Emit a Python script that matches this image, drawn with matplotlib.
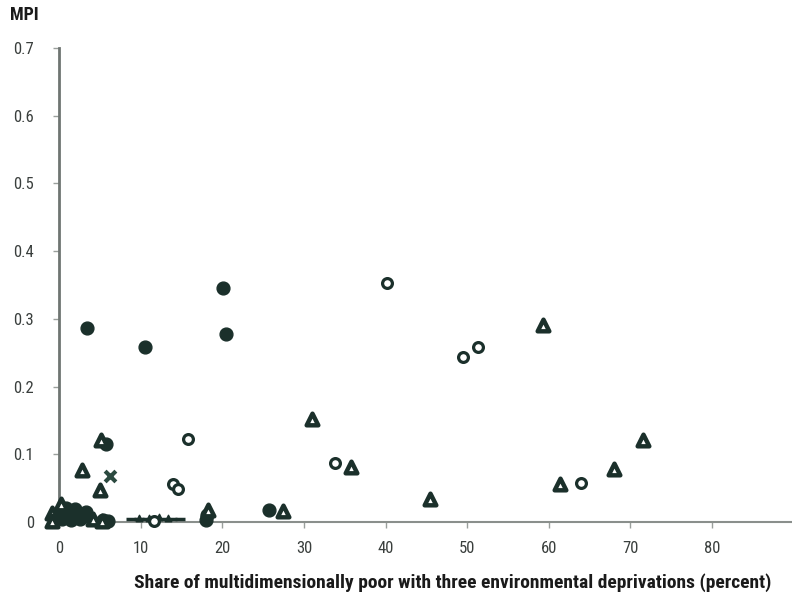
import matplotlib
matplotlib.use("Agg")
import matplotlib.pyplot as plt
from matplotlib import font_manager

names = {f.name for f in font_manager.fontManager.ttflist}
fam = [n for n in ["Liberation Sans Narrow", "DejaVu Sans Condensed", "Roboto Condensed", "DejaVu Sans"] if n in names]
plt.rcParams['font.family'] = fam

# Filled circles
fc_x = [3.4, 10.5, 20.1, 20.5, 5.7, 25.7, 18.0, 18.1,
        0.0, 0.6, 1.2, 1.8, 2.4, 3.0, 0.4, 1.5, 2.6, 0.9, 2.0, 3.3, 5.4, 6.0]
fc_y = [0.287, 0.258, 0.346, 0.278, 0.115, 0.018, 0.003, 0.010,
        0.010, 0.014, 0.008, 0.016, 0.012, 0.009, 0.004, 0.003, 0.004, 0.020, 0.019, 0.015, 0.003, 0.002]

# Open circles
oc_x = [40.2, 49.5, 51.3, 15.8, 14.0, 14.6, 33.8, 64.0, 11.6]
oc_y = [0.353, 0.244, 0.259, 0.123, 0.056, 0.049, 0.087, 0.058, 0.002]

# Triangles
tr_x = [59.3, 31.0, 35.8, 45.5, 61.4, 68.0, 71.6, 2.8, 5.0, 5.1, 27.5, 18.3,
        4.2, 5.3, -0.8, -0.8, 0.2]
tr_y = [0.291, 0.152, 0.081, 0.034, 0.056, 0.078, 0.121, 0.077, 0.047, 0.121, 0.016, 0.018,
        0.004, 0.002, 0.014, 0.002, 0.026]

# Small triangles
st_x = [9.8, 11.0, 12.2, 13.4]
st_y = [0.006, 0.006, 0.007, 0.006]

# Crosses
cr_x = [6.2]
cr_y = [0.068]

# Dashes
da_x = [8.8, 9.8, 10.8, 11.8, 12.8, 13.8, 14.8]
da_y = [0.004, 0.004, 0.004, 0.004, 0.004, 0.004, 0.004]

xticks = [0, 10, 20, 30, 40, 50, 60, 70, 80]
xtick_labels = ["0", "10", "20", "30", "40", "50", "60", "70", "80"]
yticks = [0, 0.1, 0.2, 0.3, 0.4, 0.5, 0.6, 0.7]
ytick_labels = ["0", "0.1", "0.2", "0.3", "0.4", "0.5", "0.6", "0.7"]

dark = "#1b302b"
grey = "#6f7572"

fig = plt.figure(figsize=(7.92, 5.96), dpi=100)
ax = fig.add_axes([59 / 792, 74 / 596, 733 / 792, 474 / 596])
ax.set_xlim(0, 89.8)
ax.set_ylim(0, 0.7)

ax.scatter(da_x, da_y, marker="_", s=50, color=dark, linewidths=2.5, clip_on=False, zorder=3)
ax.scatter(st_x, st_y, marker="^", s=22, color=dark, clip_on=False, zorder=3)
ax.scatter(fc_x, fc_y, marker="o", s=85, color=dark, edgecolors=dark, clip_on=False, zorder=4)
ax.scatter(oc_x, oc_y, marker="o", s=50, facecolors="white", edgecolors=dark, linewidths=2.3, clip_on=False, zorder=4)
ax.scatter(tr_x, tr_y, marker="^", s=70, facecolors="white", edgecolors=dark, linewidths=3.2, clip_on=False, zorder=5)
ax.scatter(cr_x, cr_y, marker="x", s=60, color="#2c4a40", linewidths=3, clip_on=False, zorder=5)

for s in ["top", "right"]:
    ax.spines[s].set_visible(False)
ax.spines["left"].set_color(grey)
ax.spines["left"].set_linewidth(2)
ax.spines["bottom"].set_color("#8a8f8c")
ax.spines["bottom"].set_linewidth(1.5)

ax.set_xticks(xticks)
ax.set_xticklabels(xtick_labels)
ax.set_yticks(yticks)
ax.set_yticklabels(ytick_labels)
ax.tick_params(axis="both", colors="#9a9f9c", labelcolor="#3a3f3d", labelsize=12, width=1, length=4)
ax.tick_params(axis="y", pad=14)
ax.tick_params(axis="x", pad=10)

ax.set_xlabel("Share of multidimensionally poor with three environmental deprivations (percent)",
              fontsize=14, fontweight="bold", color="#1a1a1a", labelpad=8)
ax.xaxis.set_label_coords(0.537, -0.108)
fig.text(10 / 792, 1 - 15 / 596, "MPI", fontsize=13, fontweight="bold", color="#1a1a1a",
         ha="left", va="center")

fig.savefig("out.png", dpi=100, facecolor="white")
